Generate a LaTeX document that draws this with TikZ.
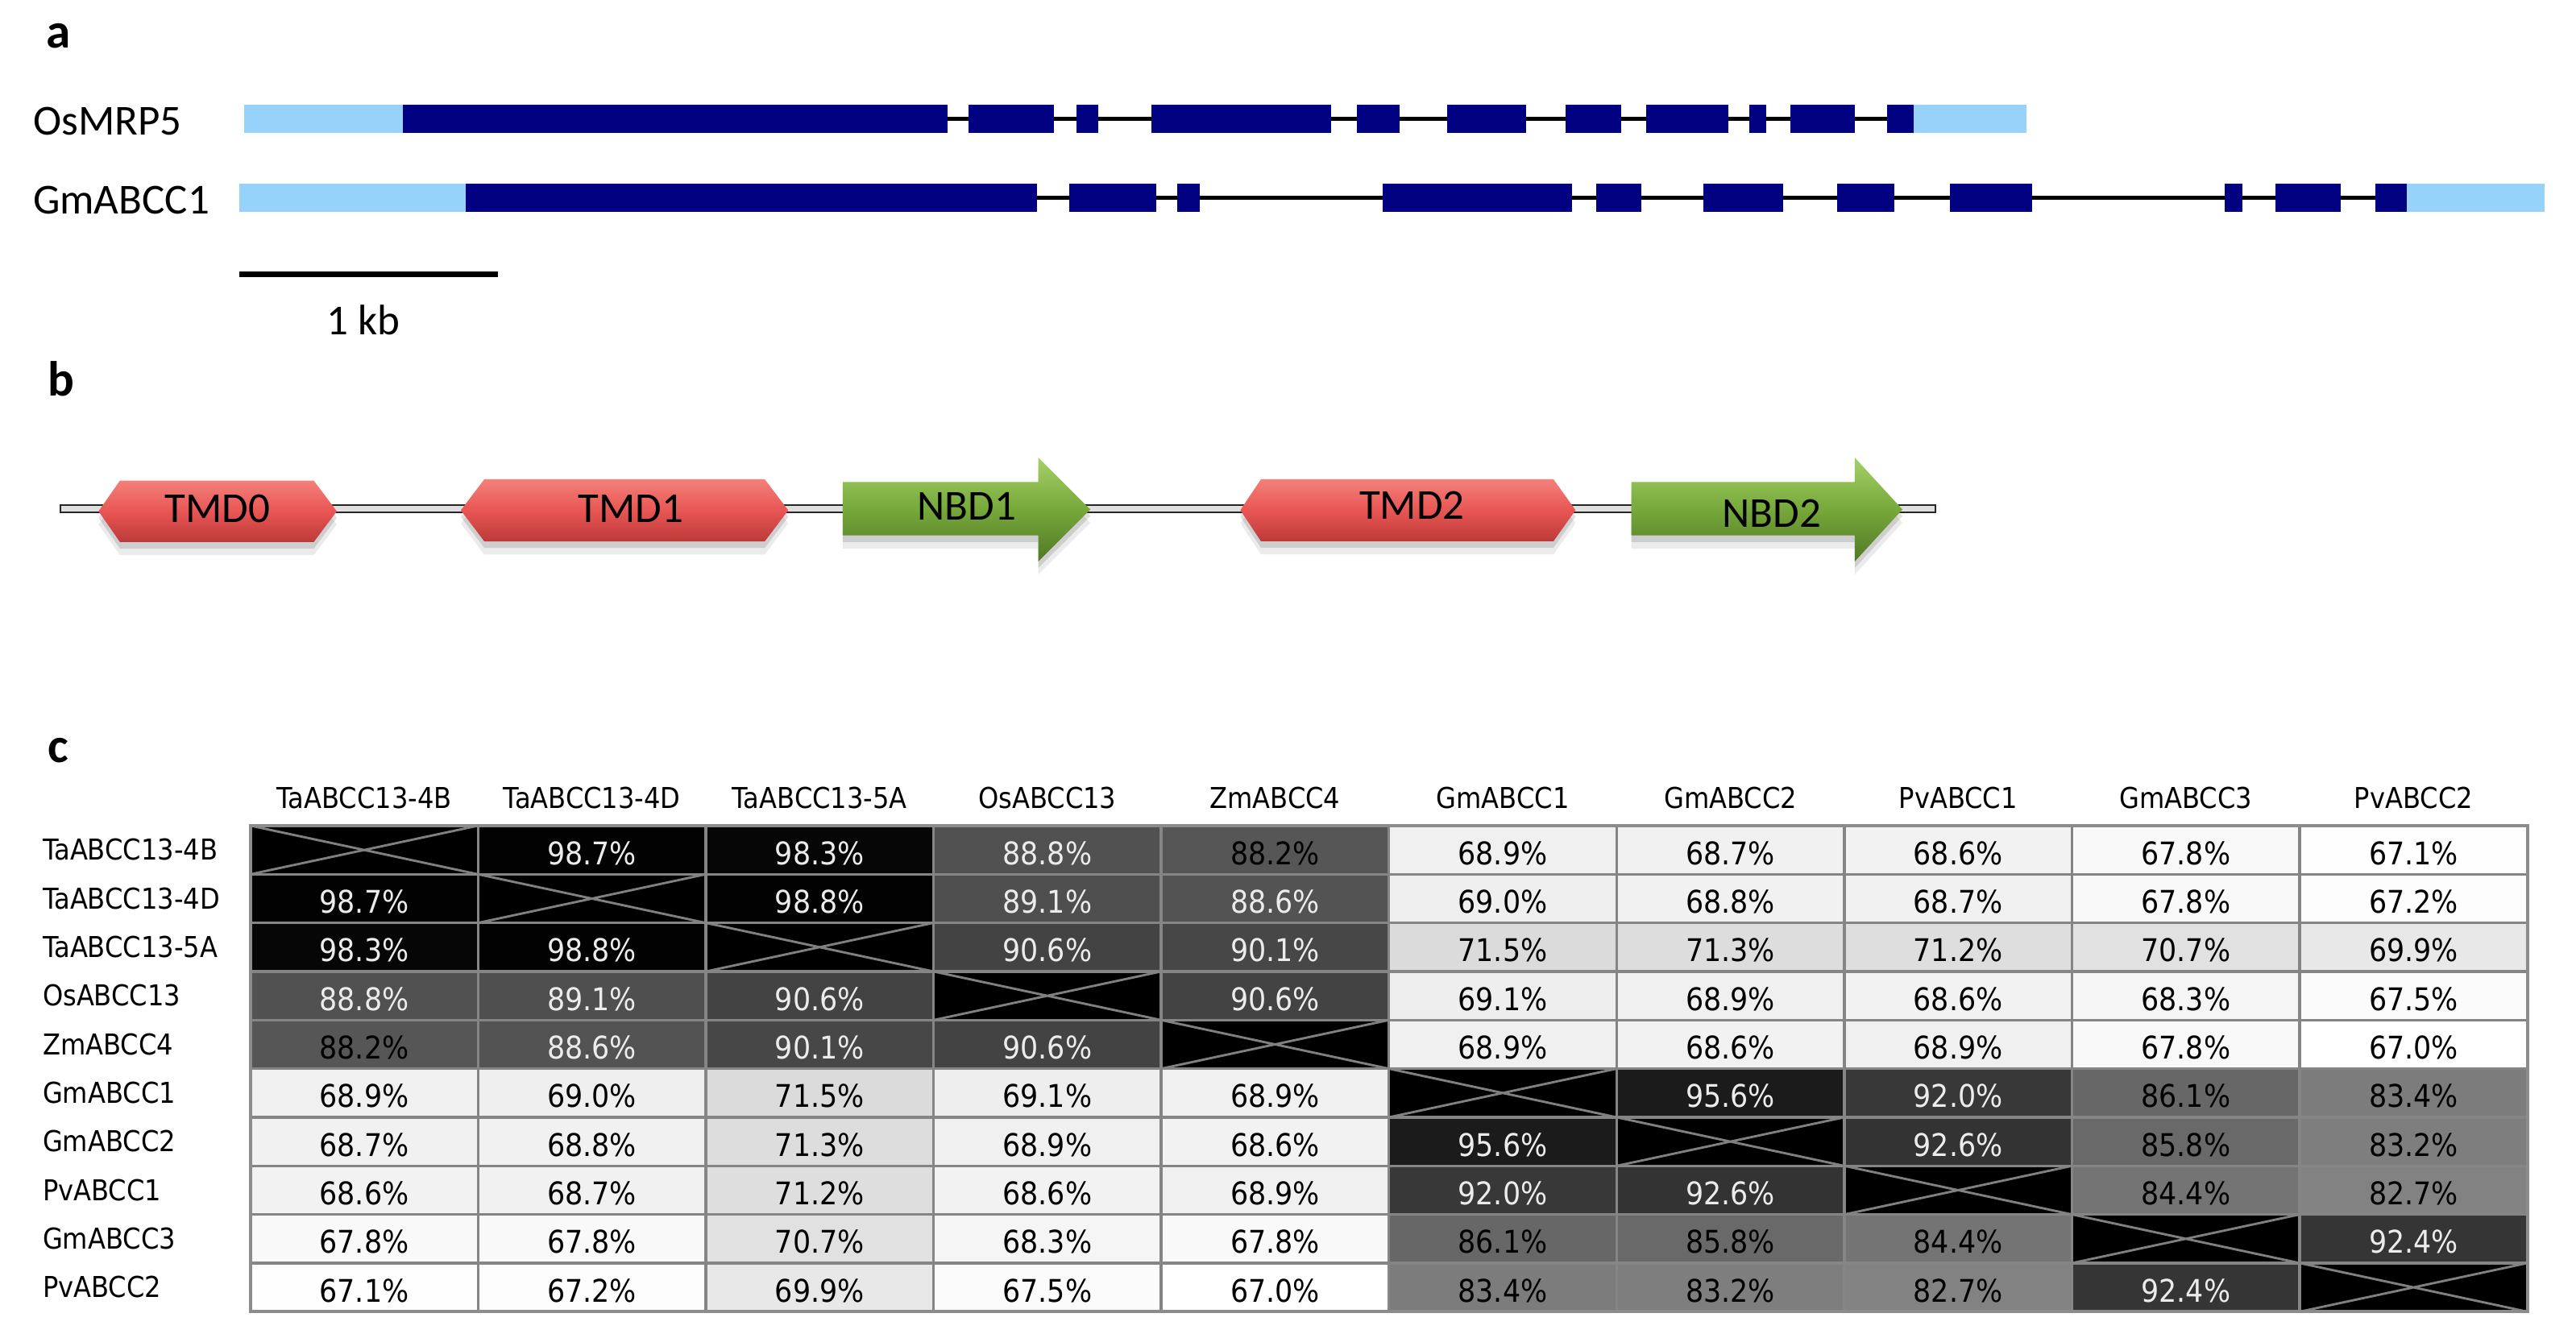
\documentclass[tikz,border=0pt]{standalone}
\usepackage{fontspec}
\setmainfont{Carlito}
\newfontfamily\tabfont[FakeStretch=0.9]{DejaVu Sans}
\usetikzlibrary{shadows}
\definecolor{utrblue}{RGB}{150,210,250}
\definecolor{exonblue}{RGB}{0,0,128}
\definecolor{redTop}{RGB}{244,128,122}
\definecolor{redMid}{RGB}{232,86,84}
\definecolor{redBot}{RGB}{188,58,56}
\definecolor{grnTop}{RGB}{165,208,105}
\definecolor{grnMid}{RGB}{118,168,58}
\definecolor{grnBot}{RGB}{82,120,38}
\begin{document}
\begin{tikzpicture}[x=1pt,y=-1pt,
  panel/.style={font=\fontsize{30}{34}\selectfont\bfseries, anchor=base west, inner sep=0pt},
  genelbl/.style={font=\fontsize{26}{30}\selectfont, anchor=base west, inner sep=0pt},
  utr/.style={fill=utrblue},
  exon/.style={fill=exonblue},
  intron/.style={draw=black, line width=2.2pt},
  scalebar/.style={draw=black, line width=3pt},
  backbone/.style={fill=gray!25, draw=black!85, line width=1.1pt},
  softshadow/.style={general shadow={fill=black,opacity=0.12,shadow yshift=-4pt},
                     general shadow={fill=black,opacity=0.08,shadow yshift=-8pt}},
  tmdshape/.style={softshadow, top color=redTop, bottom color=redBot, middle color=redMid},
  nbdshape/.style={softshadow, top color=grnTop, bottom color=grnBot, middle color=grnMid},
  domtxt/.style={font=\fontsize{26}{30}\selectfont, anchor=base, inner sep=0pt},
  hdr/.style={font=\tabfont\fontsize{17.5}{20}\selectfont, anchor=base, inner sep=0pt},
  rowlbl/.style={font=\tabfont\fontsize{17.5}{20}\selectfont, anchor=base west, inner sep=0pt},
  pct/.style={font=\tabfont\fontsize{19}{22}\selectfont, anchor=base, inner sep=0pt},
  xline/.style={draw=black!50, line width=1.4pt},
  gridline/.style={draw=black!48, line width=1.6pt},
  gridborder/.style={draw=black!45, line width=1.8pt}]
\useasboundingbox (0,0) rectangle (1568,812);

% ---------------- panel a ----------------
\node[panel] (la) at (28,29.4) {a};
\node[genelbl] (g1) at (20,82) {OsMRP5};
\node[genelbl] (g2) at (20,130) {GmABCC1};

\def\ya{72.4}
\draw[intron] (148.4,\ya) -- (1233.5,\ya);
\fill[utr] (148.4,\ya-8.5) rectangle (245,\ya+8.5);
\fill[utr] (1165,\ya-8.5) rectangle (1233.5,\ya+8.5);
\foreach \a/\b in {245/577, 589.5/641.6, 655/668.5, 701/810, 826/852, 881/929,
                   953/987, 1002/1052, 1065/1075, 1090/1129, 1148.5/1165}
  \fill[exon] (\a,\ya-8.5) rectangle (\b,\ya+8.5);

\def\yb{120.5}
\draw[intron] (145.6,\yb) -- (1549,\yb);
\fill[utr] (145.6,\yb-8.5) rectangle (283.4,\yb+8.5);
\fill[utr] (1465,\yb-8.5) rectangle (1549,\yb+8.5);
\foreach \a/\b in {283.4/631, 651/704, 716.6/730.4, 841.6/957, 971.6/999, 1037/1085.4,
                   1118/1153, 1187/1237, 1354/1365, 1385/1425, 1446/1465}
  \fill[exon] (\a,\yb-8.5) rectangle (\b,\yb+8.5);

\coordinate (sb1) at (145.6,167);
\coordinate (sb2) at (303,167);
\draw[scalebar] (sb1) -- (sb2);
\node[genelbl, anchor=base] (kb) at (221,204) {1 kb};

% ---------------- panel b ----------------
\node[panel] (lb) at (29,241) {b};
\path[backbone] (36.6,307.4) rectangle (1178,311.8);

\path[tmdshape] (60,311.3) -- (73,292.6) -- (191,292.6) -- (205,311.3) -- (191,330) -- (73,330) -- cycle;
\path[tmdshape] (280.5,310.7) -- (294.8,291.8) -- (465.5,291.8) -- (479.8,310.7) -- (465.5,329.6) -- (294.8,329.6) -- cycle;
\path[nbdshape] (513,293.5) -- (632,293.5) -- (632,278.6) -- (663.7,310.2) -- (632,341.8) -- (632,326) -- (513,326) -- cycle;
\path[tmdshape] (755,310.6) -- (767.5,291.8) -- (945.6,291.8) -- (959,310.6) -- (945.6,329.5) -- (767.5,329.5) -- cycle;
\path[nbdshape] (993,293.5) -- (1129,293.5) -- (1129,278.6) -- (1158,310.2) -- (1129,341.8) -- (1129,326) -- (993,326) -- cycle;

\node[domtxt] (d1) at (132.5,318) {TMD0};
\node[domtxt] (d2) at (384,318) {TMD1};
\node[domtxt] (d3) at (588.5,316.5) {NBD1};
\node[domtxt] (d4) at (859.5,316.3) {TMD2};
\node[domtxt] (d5) at (1078.5,321) {NBD2};

% ---------------- panel c ----------------
\node[panel] (lc) at (29,464.4) {c};
\def\tx{152.4}
\def\tw{138.6}
\def\ty{502.7}
\def\th{29.59}

\foreach \n [count=\c] in {TaABCC13-4B,TaABCC13-4D,TaABCC13-5A,OsABCC13,ZmABCC4,GmABCC1,GmABCC2,PvABCC1,GmABCC3,PvABCC2}
  \node[hdr] (h\c) at ({\tx+\tw*(\c-0.5)},492) {\n};
\foreach \n [count=\r] in {TaABCC13-4B,TaABCC13-4D,TaABCC13-5A,OsABCC13,ZmABCC4,GmABCC1,GmABCC2,PvABCC1,GmABCC3,PvABCC2}
  \node[rowlbl] (r\r) at (25.8,{\ty+\th*(\r-0.5)+6.2}) {\n};

\foreach \row [count=\r] in {
  {0,98.7,98.3,88.8,88.2,68.9,68.7,68.6,67.8,67.1},
  {98.7,0,98.8,89.1,88.6,69.0,68.8,68.7,67.8,67.2},
  {98.3,98.8,0,90.6,90.1,71.5,71.3,71.2,70.7,69.9},
  {88.8,89.1,90.6,0,90.6,69.1,68.9,68.6,68.3,67.5},
  {88.2,88.6,90.1,90.6,0,68.9,68.6,68.9,67.8,67.0},
  {68.9,69.0,71.5,69.1,68.9,0,95.6,92.0,86.1,83.4},
  {68.7,68.8,71.3,68.9,68.6,95.6,0,92.6,85.8,83.2},
  {68.6,68.7,71.2,68.6,68.9,92.0,92.6,0,84.4,82.7},
  {67.8,67.8,70.7,68.3,67.8,86.1,85.8,84.4,0,92.4},
  {67.1,67.2,69.9,67.5,67.0,83.4,83.2,82.7,92.4,0}} {
  \foreach \v [count=\c] in \row {
    \pgfmathsetmacro\xa{\tx+\tw*(\c-1)}
    \pgfmathsetmacro\xb{\tx+\tw*\c}
    \pgfmathsetmacro\yta{\ty+\th*(\r-1)}
    \pgfmathsetmacro\ytb{\ty+\th*\r}
    \ifdim\v pt<1pt
      \fill[black] (\xa,\yta) rectangle (\xb,\ytb);
      \draw[xline] (\xa,\yta) -- (\xb,\ytb) (\xa,\ytb) -- (\xb,\yta);
    \else
      \pgfmathsetmacro\p{min(100,max(0,(\v-67)*100/32))}
      \fill[black!\p] (\xa,\yta) rectangle (\xb,\ytb);
      \ifdim\v pt>88.4pt\def\tc{gray!15}\else\def\tc{black}\fi
      \node[pct, text=\tc] (c\r-\c) at ({(\xa+\xb)/2},{\yta+\th/2+8.8}) {\v\%};
    \fi
  }
}
\foreach \c in {1,...,9}
  \draw[gridline] ({\tx+\tw*\c},\ty) -- ({\tx+\tw*\c},{\ty+10*\th});
\foreach \r in {1,...,9}
  \draw[gridline] (\tx,{\ty+\th*\r}) -- ({\tx+10*\tw},{\ty+\th*\r});
\draw[gridborder] (\tx,\ty) rectangle ({\tx+10*\tw},{\ty+10*\th});
\end{tikzpicture}
\end{document}
